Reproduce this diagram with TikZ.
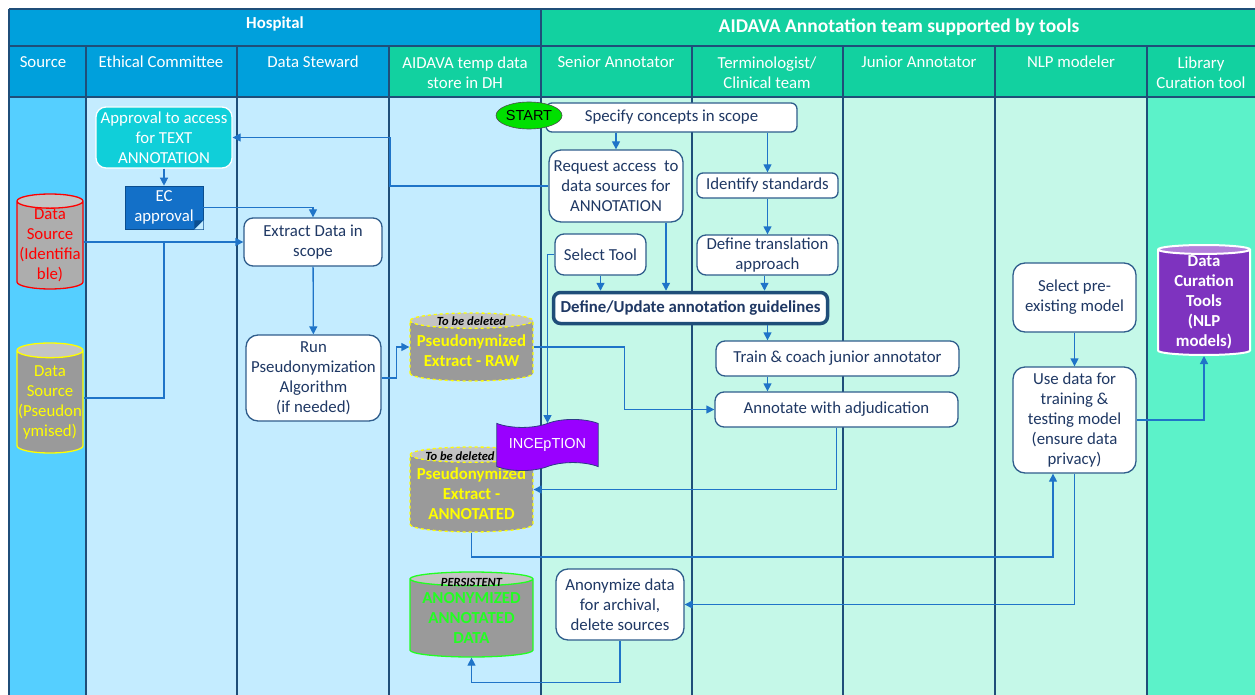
\documentclass[tikz,border=0pt]{standalone}
\usepackage{fontspec}
\setmainfont{Carlito}
\newfontfamily\arialf{Liberation Sans}
\usetikzlibrary{shapes.geometric,shapes.symbols,arrows.meta}
\definecolor{hospblue}{HTML}{00A0DC}
\definecolor{teamgreen}{HTML}{12D1A0}
\definecolor{srcblue}{HTML}{55CFFF}
\definecolor{ltblue}{HTML}{C4ECFF}
\definecolor{mint}{HTML}{C5F8E8}
\definecolor{aqua}{HTML}{5CF2C9}
\definecolor{gridc}{HTML}{1F4E79}
\definecolor{navy}{HTML}{1F3864}
\definecolor{boxline}{HTML}{2F5D8C}
\definecolor{arrowc}{HTML}{1F74C8}
\definecolor{cyanbox}{HTML}{10CFD9}
\definecolor{ecblue}{HTML}{1370C8}
\definecolor{ecfold}{HTML}{0B4E8F}
\definecolor{incep}{HTML}{9900FF}
\definecolor{incepline}{HTML}{2E3A87}
\definecolor{cylgray}{HTML}{9A9A9A}
\definecolor{cyllight}{HTML}{ADADAD}
\definecolor{cyltop}{HTML}{C4C4C4}
\definecolor{purplecyl}{HTML}{7E33BF}
\definecolor{purpletop}{HTML}{B380DB}
\definecolor{startgreen}{HTML}{00E000}
\definecolor{yel}{HTML}{FFFF00}
\definecolor{grn}{HTML}{22FF22}
\newcommand\boxfont{\fontsize{16.8}{20}\selectfont}
\begin{document}
\begin{tikzpicture}[x=1pt,y=-1pt,
  grid/.style={draw=gridc,line width=1.4pt},
  hdr/.style={text=white,font=\boxfont,align=center,inner sep=0pt},
  box/.style={draw=boxline,line width=1.3pt,rounded corners=9pt,fill=white,text=navy,align=center,font=\boxfont,inner sep=1pt},
  conn/.style={draw=arrowc,line width=1.3pt,-{Triangle[length=8pt,width=8pt]}},
  plain/.style={draw=arrowc,line width=1.3pt},
  cylbase/.style={cylinder,shape border rotate=90,cylinder uses custom fill,inner sep=0pt,align=center,anchor=shape center,font=\boxfont},
  graycyl/.style={cylbase,cylinder body fill=cylgray,cylinder end fill=cyltop,aspect=0.14,minimum width=123,line width=1.3pt,dashed,font=\boxfont\bfseries},
  tag/.style={font=\fontsize{12.5}{14}\selectfont\bfseries\itshape,text=black,inner sep=0pt}
]
\useasboundingbox (0,0) rectangle (1255,695);
\fill[white] (0,0) rectangle (1255,695);
% header fills
\fill[hospblue] (9,9) rectangle (541,46);
\fill[teamgreen] (541,9) rectangle (1255,46);
\fill[hospblue] (9,46) rectangle (389,97);
\fill[teamgreen] (389,46) rectangle (1255,97);
% body fills
\fill[srcblue] (9,97) rectangle (86,695);
\fill[ltblue] (86,97) rectangle (541,695);
\fill[mint] (541,97) rectangle (1147,695);
\fill[aqua] (1147,97) rectangle (1255,695);
% grid
\draw[grid] (9,9) -- (1255,9);
\draw[grid] (9,46) -- (1255,46);
\draw[grid] (9,97) -- (1255,97);
\draw[grid] (9,9) -- (9,695);
\draw[grid] (541,9) -- (541,695);
\foreach \x in {86,237,389,692,843,995,1147} {\draw[grid] (\x,46) -- (\x,695);}
% header texts
\node[hdr,font=\boxfont\bfseries] (hhosp) at (275,24) {Hospital};
\node[hdr,font=\fontsize{19.5}{22}\selectfont\bfseries] (hteam) at (899,27) {AIDAVA Annotation team supported by tools};
\node[hdr] (hsrc) at (43,62) {Source};
\node[hdr] (heth) at (161,62) {Ethical Committee};
\node[hdr] (hds) at (313,62) {Data Steward};
\node[hdr] (htmp) at (465,73) {AIDAVA temp data\\store in DH};
\node[hdr] (hsen) at (616,62) {Senior Annotator};
\node[hdr] (hterm) at (767,73) {Terminologist/\\Clinical team};
\node[hdr] (hjun) at (919,62) {Junior Annotator};
\node[hdr] (hnlp) at (1071,62) {NLP modeler};
\node[hdr] (hlib) at (1201,73) {Library\\Curation tool};

% boxes
\node[box,rounded corners=6pt,minimum width=251,minimum height=29] (specify) at (671.5,117.5) {Specify concepts in scope};
\node[draw=black!70,line width=0.6pt,ellipse,fill=startgreen,minimum width=66,minimum height=27,inner sep=0pt,font=\arialf\fontsize{14.5}{16}\selectfont] (start) at (529,115.5) {START};
\node[box,rounded corners=12pt,minimum width=134,minimum height=72] (request) at (616,186) {Request access\ \ to\\data sources for\\ANNOTATION};
\node[box,minimum width=91,minimum height=41] (selecttool) at (600.5,254.5) {Select Tool};
\node[box,rounded corners=6pt,minimum width=141,minimum height=25] (identify) at (767.5,185.5) {Identify standards};
\node[box,minimum width=141,minimum height=40] (deftrans) at (767.5,255) {Define translation\\approach};
\node[box,draw=gridc,line width=3.5pt,rounded corners=7pt,minimum width=274,minimum height=31,font=\boxfont\bfseries] (guidelines) at (690.5,308) {Define/Update annotation guidelines};
\node[box,minimum width=243,minimum height=35] (train) at (837.5,358.5) {Train \& coach junior annotator};
\node[box,minimum width=243,minimum height=35] (annotate) at (836.5,409.5) {Annotate with adjudication};
\node[box,draw=white,fill=cyanbox,text=white,rounded corners=10pt,minimum width=136,minimum height=61] (approval) at (164,137.5) {Approval to access\\for TEXT\\ANNOTATION};
\node[fill=ecblue,draw=ecfold,line width=0.6pt,text=white,font=\boxfont,align=center,minimum width=78,minimum height=43,inner sep=0pt] (ec) at (164,207.5) {EC\\approval};
\fill[ltblue] ([yshift=9pt]ec.south east) -- (ec.south east) -- ([xshift=-9pt]ec.south east) -- cycle;
\fill[ecfold] ([yshift=9pt]ec.south east) -- ([xshift=-9pt,yshift=9pt]ec.south east) -- ([xshift=-9pt]ec.south east) -- cycle;
\node[box,minimum width=138,minimum height=48] (extract) at (313,242) {Extract Data in\\scope};
\node[box,rounded corners=12pt,minimum width=135,minimum height=86] (run) at (313.5,378) {Run\\Pseudonymization\\Algorithm\\(if needed)};
\node[box,rounded corners=12pt,minimum width=128,minimum height=71] (anonymize) at (620,604.5) {Anonymize data\\for archival,\\delete sources};
\node[box,rounded corners=12pt,minimum width=123,minimum height=69] (selpre) at (1074.5,297.5) {Select pre-\\existing model};
\node[box,rounded corners=12pt,minimum width=123,minimum height=106] (usedata) at (1074.5,420) {Use data for\\training \&\\testing model\\(ensure data\\privacy)};

% cylinders
\node[cylbase,draw=red,line width=1.3pt,cylinder body fill=cyllight,cylinder end fill=cyltop,aspect=0.23,minimum width=66,minimum height=93,text=red] (dsid) at (50,241.5) {Data\\Source\\(Identifia\\ble)};
\node[cylbase,draw=yel,line width=1.3pt,cylinder body fill=cylgray,cylinder end fill=cyltop,aspect=0.23,minimum width=66,minimum height=110,text=yel] (dspseudo) at (50,398) {Data\\Source\\(Pseudon\\ymised)};
\node[graycyl,draw=yel,minimum height=68,text=yel] (raw) at (471.5,347) {Pseudonymized\\Extract - RAW};
\node[tag] (rawtag) at (471.5,321) {To be deleted};
\node[graycyl,draw=yel,minimum height=85,text=yel] (annotated) at (471.5,489.5) {Pseudonymized\\Extract -\\ANNOTATED};
\node[tag] (anntag) at (460,456) {To be deleted};
\node[graycyl,solid,draw=grn,minimum height=85,text=grn] (anonymized) at (471.5,614.5) {ANONYMIZED\\ANNOTATED\\DATA};
\node[tag] (pertag) at (471.5,582) {PERSISTENT};
\node[cylbase,draw=white,line width=2pt,cylinder body fill=purplecyl,cylinder end fill=purpletop,aspect=0.15,minimum width=92,minimum height=110,text=white,font=\boxfont\bfseries] (dct) at (1204,300) {Data\\Curation\\Tools\\(NLP\\models)};
% INCEpTION
\node[tape,draw=incepline,line width=0.8pt,fill=incep,text=white,font=\arialf\fontsize{14.5}{16}\selectfont,inner xsep=12pt,inner ysep=11pt,tape bend top=in and out,tape bend bottom=in and out,tape bend height=8pt] (inception) at (547.5,445) {INCEpTION};

% connectors
\coordinate (jr) at (390,186);
\coordinate (jx) at (1053,557);
\draw[conn] (request.north |- specify.south) -- (request.north);
\draw[conn] (identify.north |- specify.south) -- (identify.north);
\draw[conn] (identify) -- (deftrans);
\draw[conn] ([xshift=-3pt]deftrans.south) -- ([xshift=-3pt]deftrans.south |- guidelines.north);
\draw[conn] (selecttool.south) -- (selecttool.south |- guidelines.north);
\draw[conn] ([xshift=50pt]request.south) -- ([xshift=50pt]request.south |- guidelines.north);
\draw[conn] (request.west) -- (jr) |- (approval.east);
\draw[conn] (approval) -- (ec);
\draw[conn] (ec.east) -| (extract.north);
\draw[conn] (dsid.east |- extract.west) -- (extract.west);
\draw[plain] (dspseudo.east |- dspseudo.shape center) -| (ec.south |- extract.west);
\draw[conn] (extract) -- (run);
\draw[conn] (run.east) -- ++(15,0) |- (raw.west |- raw.shape center);
\draw[conn] (raw.east |- raw.shape center) -- ++(91,0) |- (annotate.west);
\draw[conn] (guidelines.south -| identify.center) -- (train.north -| identify.center);
\draw[conn] (train.south -| identify.center) -- (annotate.north -| identify.center);
\draw[conn] (annotate.south) |- (annotated.east |- annotated.shape center);
\draw[conn] (selecttool.west) -| (inception.north);
\draw[conn] (annotated.south) |- (jx) -- (jx |- usedata.south);
\draw[conn] (usedata.south) |- (anonymize.east);
\draw[conn] (anonymize.south) -- ++(0,42) -| (anonymized.south);
\draw[conn] (selpre) -- (usedata);
\draw[conn] (usedata.east) -| (dct.south);
\end{tikzpicture}
\end{document}
